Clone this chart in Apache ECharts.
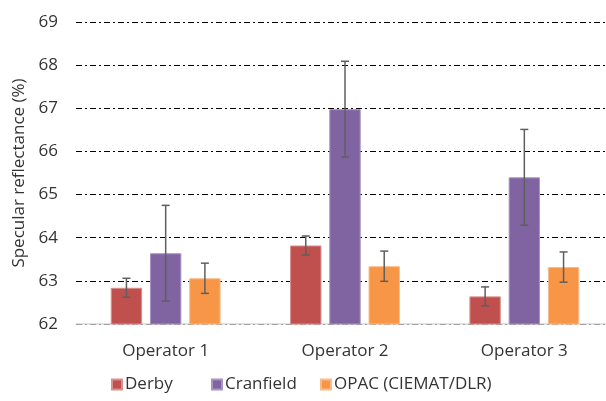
<!DOCTYPE html>
<html><head><meta charset="utf-8">
<script src="https://cdn.jsdelivr.net/npm/echarts@6/dist/echarts.min.js"></script>
<style>html,body{margin:0;padding:0;background:#fff}#c{width:606px;height:401px}</style>
</head><body><div id="c"></div>
<script>
var categories = ['Operator 1', 'Operator 2', 'Operator 3'];
var seriesNames = ['Derby', 'Cranfield', 'OPAC (CIEMAT/DLR)'];
var derby = [62.84, 63.82, 62.64];
var cranfield = [63.64, 66.98, 65.40];
var opac = [63.06, 63.34, 63.32];
var derbyErr = [0.22, 0.22, 0.22];
var cranfieldErr = [1.11, 1.11, 1.11];
var opacErr = [0.35, 0.35, 0.35];
var yTicks = [62, 63, 64, 65, 66, 67, 68, 69];

var colors = ['#C0504D', '#8064A2', '#F79646'];
var borders = ['#D9908E', '#A995C2', '#FABB8A'];
var values = [derby, cranfield, opac];
var errs = [derbyErr, cranfieldErr, opacErr];
var BW = 0.175, GAP = 0.25;
var font = '"Open Sans", sans-serif';
var legendLeft = [111, 211, 320];

var series = [];
values.forEach(function (v, i) {
  series.push({
    name: seriesNames[i], type: 'bar', data: v,
    barWidth: (BW * 100) + '%', barGap: (GAP * 100) + '%',
    itemStyle: { color: colors[i], borderColor: borders[i], borderWidth: 1 },
    z: 2
  });
});
values.forEach(function (v, i) {
  series.push({
    type: 'custom', name: 'err' + i,
    data: v.map(function (val, k) { return [k, val - errs[i][k], val + errs[i][k]]; }),
    encode: { x: 0, y: [1, 2] },
    z: 5,
    renderItem: function (params, api) {
      var k = api.value(0);
      var lo = api.coord([k, api.value(1)]);
      var hi = api.coord([k, api.value(2)]);
      var band = api.size([1, 0])[0];
      var bw = band * BW;
      var x = lo[0] + (i - 1) * bw * (1 + GAP);
      var cap = 4;
      var st = { stroke: '#5f5f5f', lineWidth: 1.5 };
      return { type: 'group', children: [
        { type: 'line', shape: { x1: x, y1: lo[1], x2: x, y2: hi[1] }, style: st },
        { type: 'line', shape: { x1: x - cap, y1: lo[1], x2: x + cap, y2: lo[1] }, style: st },
        { type: 'line', shape: { x1: x - cap, y1: hi[1], x2: x + cap, y2: hi[1] }, style: st }
      ]};
    }
  });
});

var legends = seriesNames.map(function (n, i) {
  return {
    data: [n], bottom: 8, left: legendLeft[i], padding: 0,
    itemWidth: 10, itemHeight: 10, icon: 'rect',
    textStyle: { fontFamily: font, fontSize: 17, color: '#333', padding: [0, 0, 0, -2] }
  };
});

var chart = echarts.init(document.getElementById('c'), null, { renderer: 'canvas' });
chart.setOption({
  animation: false,
  color: colors,
  grid: { left: 76, width: 538, top: 22, bottom: 77, containLabel: false, outerBoundsMode: 'none' },
  legend: legends,
  xAxis: {
    type: 'category', data: categories,
    axisLine: { lineStyle: { color: '#d9d9d9', width: 1.5 } },
    axisTick: { show: false },
    axisLabel: { fontFamily: font, fontSize: 17, color: '#333', margin: 19 }
  },
  yAxis: {
    type: 'value', min: yTicks[0], max: yTicks[yTicks.length - 1], interval: 1,
    name: 'Specular reflectance (%)', nameLocation: 'middle', nameGap: 47,
    nameTextStyle: { fontFamily: font, fontSize: 17, color: '#333' },
    axisLine: { show: false }, axisTick: { show: false },
    axisLabel: { fontFamily: font, fontSize: 17, color: '#333', margin: 18 },
    splitLine: { lineStyle: { color: '#000', width: 1, type: [6, 3, 2, 3] } }
  },
  series: series
});
</script></body></html>
